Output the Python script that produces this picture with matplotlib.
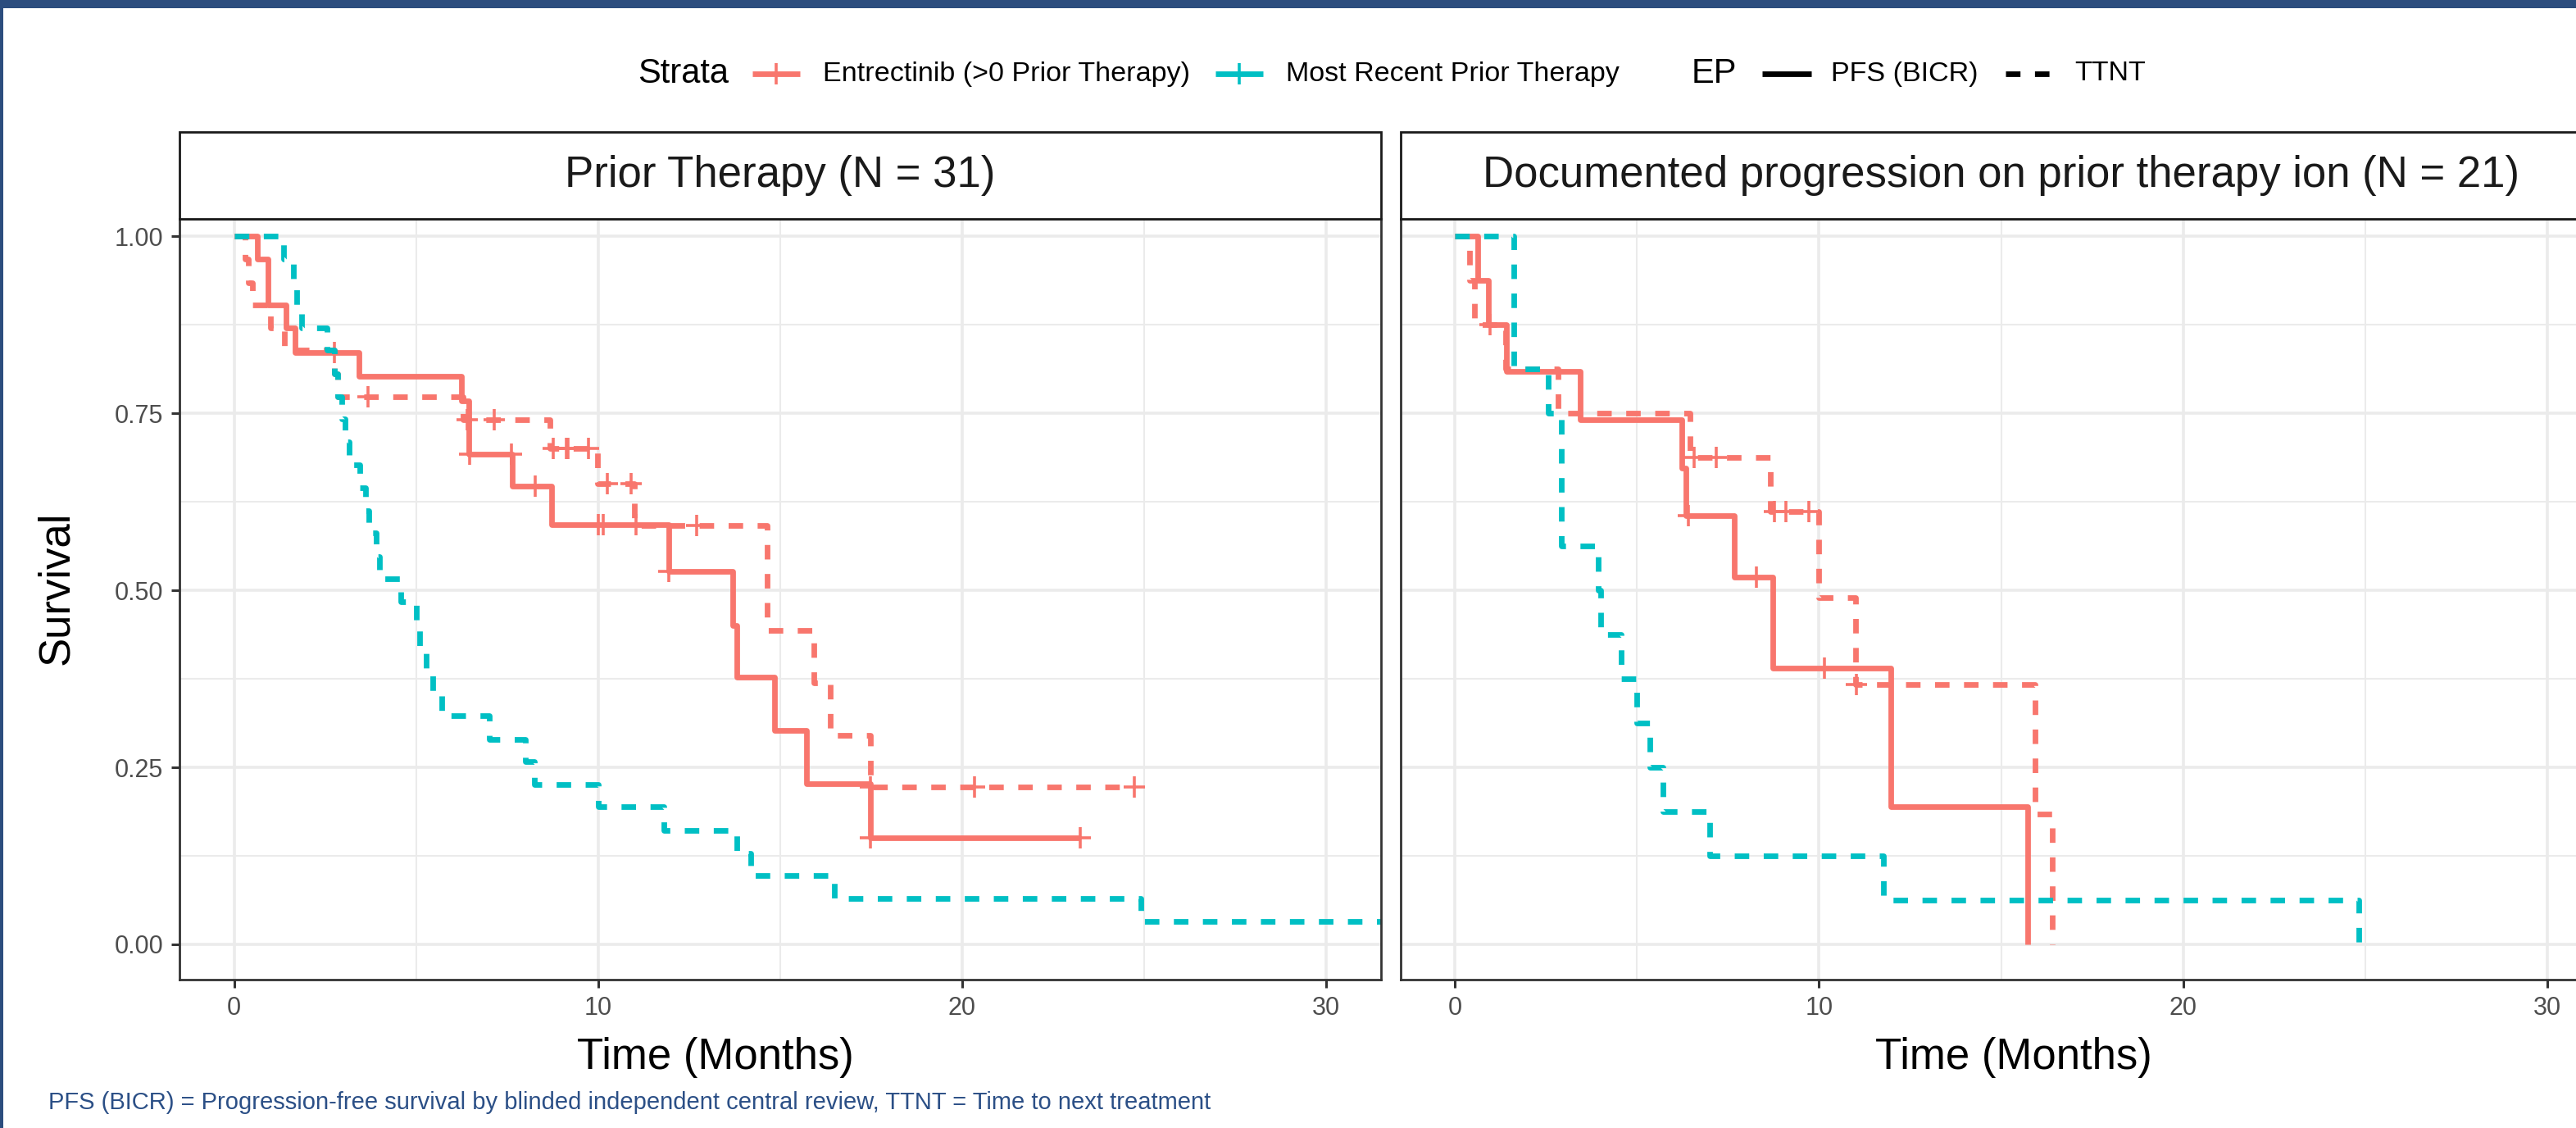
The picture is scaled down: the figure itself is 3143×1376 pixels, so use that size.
import matplotlib
matplotlib.use("Agg")
import matplotlib.pyplot as plt
from matplotlib.lines import Line2D
from matplotlib.patches import Rectangle

plt.rcParams["font.family"] = ["Liberation Sans", "DejaVu Sans"]

RED = "#F8766D"
TEAL = "#00BFC4"
NAVY = "#2C4D7E"

# ---- panel titles / labels
panel_titles = ["Prior Therapy (N = 31)",
                "Documented progression on prior therapy ion (N = 21)"]
strata_labels = ["Entrectinib (>0 Prior Therapy)", "Most Recent Prior Therapy"]
ep_labels = ["PFS (BICR)", "TTNT"]
x_ticks = [0, 10, 20, 30]
y_ticks = [0.0, 0.25, 0.5, 0.75, 1.0]
footnote = ("PFS (BICR) = Progression-free survival by blinded independent central "
            "review, TTNT = Time to next treatment")

# ---- panel 1: Prior Therapy (N = 31)
pfs_t_1 = [0, 0.64, 0.94, 1.42, 1.67, 3.42, 6.25, 6.45, 7.63, 8.73, 11.95,
           13.70, 13.80, 14.84, 15.72, 17.47, 23.25]
pfs_s_1 = [1.0, 0.968, 0.903, 0.871, 0.836, 0.802, 0.768, 0.693, 0.647, 0.593,
           0.527, 0.451, 0.377, 0.302, 0.2265, 0.151, 0.151]
pfs_ct_1 = [2.76, 6.47, 7.62, 8.28, 10.0, 10.15, 11.03, 11.95, 17.47, 23.25]
pfs_cs_1 = [0.836, 0.693, 0.693, 0.647, 0.593, 0.593, 0.593, 0.527, 0.151, 0.151]

ttnt_t_1 = [0, 0.30, 0.40, 0.50, 1.00, 1.38, 2.75, 2.85, 6.30, 8.67, 9.99, 11.0,
            14.64, 15.92, 16.37, 17.47, 24.72]
ttnt_s_1 = [1.0, 0.968, 0.935, 0.903, 0.871, 0.839, 0.806, 0.774, 0.741, 0.701,
            0.651, 0.592, 0.444, 0.369, 0.295, 0.222, 0.222]
ttnt_ct_1 = [3.67, 6.40, 7.15, 8.76, 9.12, 9.18, 9.74, 10.25, 10.91, 12.71,
             17.47, 20.34, 24.72]
ttnt_cs_1 = [0.774, 0.741, 0.741, 0.701, 0.701, 0.701, 0.701, 0.651, 0.651,
             0.592, 0.222, 0.222, 0.222]

prior_t_1 = [0, 1.35, 1.62, 1.72, 1.85, 2.55, 2.75, 2.85, 2.95, 3.05, 3.15, 3.45,
             3.62, 3.70, 3.90, 4.00, 4.57, 5.00, 5.10, 5.28, 5.45, 5.70, 7.00,
             8.00, 8.25, 10.0, 11.8, 13.8, 14.2, 16.5, 24.9, 32.0]
prior_s_1 = [1.0, 0.968, 0.935, 0.903, 0.871, 0.839, 0.806, 0.774, 0.742, 0.710,
             0.677, 0.645, 0.613, 0.581, 0.548, 0.516, 0.484, 0.452, 0.419,
             0.387, 0.355, 0.323, 0.290, 0.258, 0.226, 0.194, 0.161, 0.129,
             0.097, 0.0645, 0.032, 0.032]

# ---- panel 2: Documented progression (N = 21)
pfs_t_2 = [0, 0.62, 0.92, 1.42, 3.43, 6.24, 6.35, 7.66, 8.73, 11.97, 15.74]
pfs_s_2 = [1.0, 0.938, 0.876, 0.809, 0.741, 0.673, 0.606, 0.519, 0.390, 0.195, 0.0]
pfs_ct_2 = [0.96, 6.42, 8.28, 10.15]
pfs_cs_2 = [0.876, 0.606, 0.519, 0.390]

ttnt_t_2 = [0, 0.40, 0.53, 1.38, 2.83, 6.46, 8.67, 10.0, 11.0, 15.93, 16.40]
ttnt_s_2 = [1.0, 0.9375, 0.875, 0.8125, 0.75, 0.6875, 0.6115, 0.4895, 0.367,
            0.184, 0.0]
ttnt_ct_2 = [6.57, 7.17, 8.77, 9.09, 9.72, 11.03]
ttnt_cs_2 = [0.6875, 0.6875, 0.6115, 0.6115, 0.6115, 0.367]

prior_t_2 = [0, 1.62, 2.57, 2.92, 3.93, 4.01, 4.57, 4.99, 5.36, 5.71, 6.99,
             11.76, 24.83]
prior_s_2 = [1.0, 0.8125, 0.75, 0.5625, 0.5, 0.4375, 0.375, 0.3125, 0.25,
             0.1875, 0.125, 0.0625, 0.0]

panels = [
    (panel_titles[0], (pfs_t_1, pfs_s_1, pfs_ct_1, pfs_cs_1),
     (ttnt_t_1, ttnt_s_1, ttnt_ct_1, ttnt_cs_1), (prior_t_1, prior_s_1)),
    (panel_titles[1], (pfs_t_2, pfs_s_2, pfs_ct_2, pfs_cs_2),
     (ttnt_t_2, ttnt_s_2, ttnt_ct_2, ttnt_cs_2), (prior_t_2, prior_s_2)),
]

# ---- layout in pixels of the 3143x1376 canvas
W, H = 3143, 1376


def fx(px):
    return px / W


def fy(py):
    return 1 - py / H


LW = 2.45
DASH = (0, (2.6, 2.6))
MS, MEW = 9.5, 1.3

fig = plt.figure(figsize=(W / 200, H / 200), dpi=200)

ax_lefts = [219, 1708.7]
ax_w = (1684.7 - 219) / W
ax_b, ax_t = fy(1195), fy(267)
strip_top = fy(161)

for i, (title, pfs, ttnt, prior) in enumerate(panels):
    ax = fig.add_axes([fx(ax_lefts[i]), ax_b, ax_w, ax_t - ax_b])
    ax.set_xlim(-1.5, 31.5)
    ax.set_ylim(-0.0498, 1.0248)
    ax.set_xticks(x_ticks)
    ax.set_xticks([5, 15, 25], minor=True)
    ax.set_yticks(y_ticks)
    ax.set_yticks([0.125, 0.375, 0.625, 0.875], minor=True)
    ax.set_axisbelow(True)
    ax.grid(which="major", color="#EBEBEB", lw=1.3)
    ax.grid(which="minor", color="#EBEBEB", lw=0.75)
    for sp in ax.spines.values():
        sp.set_color("#333333")
        sp.set_linewidth(1.0)
    ax.tick_params(which="minor", length=0)
    ax.tick_params(which="major", length=3.6, width=1.1, color="#333333",
                   labelsize=11, labelcolor="#4D4D4D", pad=3.6)
    if i == 0:
        ax.set_yticklabels([f"{v:.2f}" for v in y_ticks])
    else:
        ax.tick_params(axis="y", length=0, labelleft=False)

    t, s, ct, cs = pfs
    ax.step(t, s, where="post", color=RED, lw=LW, solid_capstyle="butt")
    ax.plot(ct, cs, ls="none", marker="+", ms=MS, mew=MEW, color=RED)
    t, s, ct, cs = ttnt
    ax.step(t, s, where="post", color=RED, lw=LW, ls=DASH, dash_capstyle="butt")
    ax.plot(ct, cs, ls="none", marker="+", ms=MS, mew=MEW, color=RED)
    t, s = prior
    ax.step(t, s, where="post", color=TEAL, lw=LW, ls=DASH, dash_capstyle="butt")

    # facet strip
    fig.add_artist(Rectangle((fx(ax_lefts[i]), ax_t), ax_w, strip_top - ax_t,
                             transform=fig.transFigure, facecolor="white",
                             edgecolor="#1A1A1A", lw=1.0))
    fig.text(fx(ax_lefts[i]) + ax_w / 2, (ax_t + strip_top) / 2, title,
             ha="center", va="center", fontsize=19, color="#1A1A1A")

# axis titles
fig.text(fx(873), fy(1290), "Time (Months)", ha="center", va="center", fontsize=19)
fig.text(fx(2457), fy(1290), "Time (Months)", ha="center", va="center", fontsize=19)
fig.text(fx(69), fy(717), "Survival", ha="center", va="center", rotation=90,
         fontsize=19)

# legend (drawn by hand, ggplot-style horizontal)
ly = fy(90)
fig.text(fx(778), ly, "Strata", ha="left", va="center", fontsize=15)
for x0, col, lab in [(918, RED, strata_labels[0]), (1483, TEAL, strata_labels[1])]:
    fig.add_artist(Line2D([fx(x0), fx(x0 + 58)], [ly, ly], color=col, lw=LW,
                          transform=fig.transFigure, solid_capstyle="butt"))
    fig.add_artist(Line2D([fx(x0 + 29)], [ly], marker="+", ms=MS, mew=MEW,
                          color=col, transform=fig.transFigure))
    fig.text(fx(x0 + 86), ly, lab, ha="left", va="center", fontsize=12.3)
fig.text(fx(2064), ly, "EP", ha="left", va="center", fontsize=15)
for x0, ls, lab in [(2150, "-", ep_labels[0]), (2447, DASH, ep_labels[1])]:
    fig.add_artist(Line2D([fx(x0), fx(x0 + 60)], [ly, ly], color="black", lw=LW,
                          ls=ls, transform=fig.transFigure,
                          solid_capstyle="butt", dash_capstyle="butt"))
    fig.text(fx(x0 + 84), ly, lab, ha="left", va="center", fontsize=12.3)

# footnote
fig.text(fx(59), fy(1345), footnote, ha="left", va="center", fontsize=10.5,
         color="#2B4F86")

# slide frame: top bar + left edge
fig.add_artist(Rectangle((0, fy(10)), 1, fy(0) - fy(10), transform=fig.transFigure,
                         facecolor=NAVY, edgecolor="none"))
fig.add_artist(Rectangle((0, 0), fx(4), 1, transform=fig.transFigure,
                         facecolor=NAVY, edgecolor="none"))

fig.savefig("out.png", dpi=200)
